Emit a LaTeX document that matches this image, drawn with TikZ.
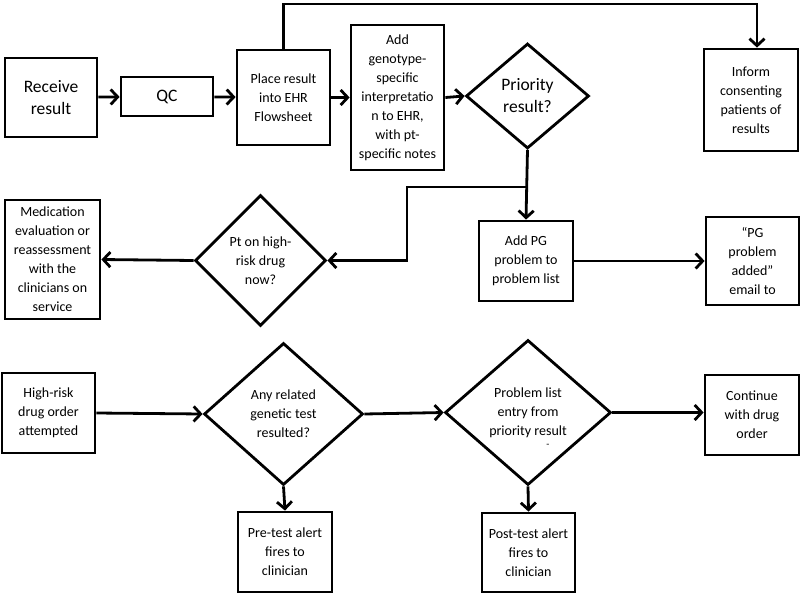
\documentclass[tikz,border=0pt]{standalone}
\usepackage{fontspec}
\setmainfont{Carlito}
\usetikzlibrary{shapes.geometric,arrows.meta}
\begin{document}
\begin{tikzpicture}[x=1pt,y=-1pt,
  every node/.style={font=\fontsize{14}{19}\selectfont},
  box/.style={draw,line width=2.8pt,align=center,inner sep=0pt},
  big/.style={font=\fontsize{17.5}{22}\selectfont},
  dia/.style={draw,line width=2.8pt,diamond,inner sep=0pt},
  txt/.style={align=center,inner sep=0pt},
  arr/.style={line width=2.8pt,-{Straight Barb[length=7pt,width=15pt]}},
  ln/.style={line width=2.8pt}]
\useasboundingbox (0,0) rectangle (800,594);
% top row
\node[box,big,minimum width=92pt,minimum height=79pt] (recv) at (51,97.5) {Receive\\result};
\node[box,big,minimum width=92pt,minimum height=39pt] (qc) at (167,96.5) {QC};
\node[box,minimum width=93pt,minimum height=95pt] (place) at (283.5,97.5) {Place result\\into EHR\\Flowsheet};
\node[box,minimum width=93pt,minimum height=145pt] (geno) at (397.5,97.5) {Add\\genotype-\\specific\\interpretatio\\n to EHR,\\with pt-\\specific notes};
\node[dia,minimum width=123pt,minimum height=105pt] (prio) at (527.5,96) {};
\node[txt,big] at (prio.center) {Priority\\result?};
\node[box,minimum width=94pt,minimum height=102pt] (inform) at (751,100) {Inform\\consenting\\patients of\\results};
% middle row
\node[box,minimum width=95pt,minimum height=119pt] (med) at (52.5,259.5) {Medication\\evaluation or\\reassessment\\with the\\clinicians on\\service};
\node[dia,minimum width=131pt,minimum height=131pt] (pt) at (260.5,260.5) {};
\node[txt] at (pt.center) {Pt on high-\\risk drug\\now?};
\node[box,minimum width=94pt,minimum height=80pt] (addpg) at (526,261) {Add PG\\problem to\\problem list};
\node[box,minimum width=93pt,minimum height=88pt] (email) at (752.5,261) {\char"201C PG\\problem\\added\char"201D\\email to};
% bottom row
\node[box,minimum width=93pt,minimum height=80pt] (hr) at (48.5,413) {High-risk\\drug order\\attempted};
\node[dia,minimum width=159pt,minimum height=142pt] (any) at (283.5,414) {};
\node[txt] at (any.center) {Any related\\genetic test\\resulted?};
\node[box,minimum width=94pt,minimum height=80pt] (pre) at (285,552) {Pre-test alert\\fires to\\clinician};
\node[dia,minimum width=166pt,minimum height=145pt] (plist) at (528,412.5) {};
\node[txt] at (plist.center) {Problem list\\entry from\\priority result};
\node[txt,font=\fontsize{10}{10}\selectfont] (dash) at (548,446) {-};
\node[box,minimum width=93pt,minimum height=79pt] (post) at (528.5,552.5) {Post-test alert\\fires to\\clinician};
\node[box,minimum width=94pt,minimum height=80pt] (cont) at (752,415) {Continue\\with drug\\order};
% connectors
\draw[arr] (recv) -- (qc);
\draw[arr] (qc) -- (place);
\draw[arr] (place) -- (geno);
\draw[arr] (geno.east) -- (prio.west);
\coordinate (top) at (520,4);
\draw[arr] (place.north) |- (top) -| ([xshift=6pt]inform.north);
\draw[arr] (prio.south) -- (addpg.north);
\coordinate (j) at (527.5,187);
\coordinate (k) at (407,187);
\draw[arr] (j) -- (k) |- (pt.east);
\draw[arr] (pt.west) -- (med.east);
\draw[arr] (addpg.east) -- (email.west);
\draw[arr] (hr.east) -- (any.west);
\draw[arr] (any.east) -- (plist.west);
\draw[arr] (plist.east) -- (cont.west |- plist.east);
\draw[arr] (any.south) -- (pre.north);
\draw[arr] (plist.south) -- (post.north);
\end{tikzpicture}
\end{document}
